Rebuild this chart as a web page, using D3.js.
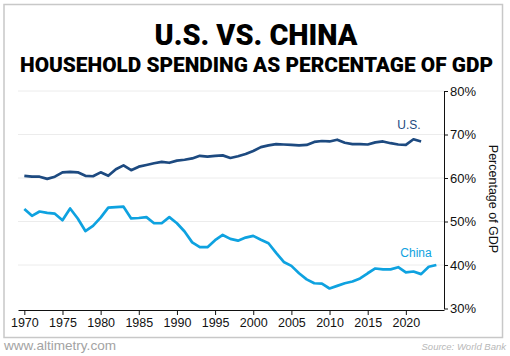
<!DOCTYPE html>
<html><head><meta charset="utf-8">
<script src="https://cdn.jsdelivr.net/npm/d3@7"></script>
<style>body{margin:0;background:#fff}svg{display:block}</style>
</head><body><svg id="c" width="510" height="356"></svg>
<script>
const years = d3.range(1970, 2025);
const usValues = [60.5,60.3,60.3,59.8,60.3,61.3,61.4,61.3,60.5,60.4,61.3,60.5,62.0,62.9,61.8,62.6,
  63.0,63.4,63.7,63.5,64.0,64.2,64.5,65.1,64.9,65.1,65.2,64.6,65.0,65.5,66.2,67.1,67.5,67.8,67.7,67.6,
  67.5,67.6,68.3,68.5,68.4,68.8,68.1,67.8,67.8,67.7,68.2,68.4,68.0,67.7,67.6,68.9,68.4];
const chinaValues = [52.9,51.3,52.3,52.0,51.8,50.3,53.0,50.7,47.8,49.0,50.9,53.2,53.3,53.4,50.7,50.8,
  51.0,49.6,49.6,51.0,49.6,47.7,45.2,44.1,44.1,45.7,46.9,46.0,45.6,46.3,46.7,45.8,45.0,42.8,40.7,39.8,
  38.1,36.7,35.8,35.7,34.6,35.2,35.8,36.2,36.9,38.1,39.2,39.0,39.0,39.5,38.3,38.5,37.9,39.6,40.0];
const xTicks = d3.range(1970, 2021, 5);
const yTicks = [30,40,50,60,70,80];
const gridTicks = [40,50,60,70,80];

const svg = d3.select("#c");
svg.append("rect").attr("x",4).attr("y",4.5).attr("width",498.5).attr("height",333)
  .attr("fill","none").attr("stroke","#c8c8c8").attr("stroke-width",1.5);

const x = d3.scaleLinear().domain([1969.17, 2025]).range([18, 444]);
const y = d3.scaleLinear().domain([30, 80]).range([308.5, 91]);

svg.append("g").selectAll("line").data(gridTicks).join("line")
  .attr("x1",18).attr("x2",444).attr("y1",d=>y(d)).attr("y2",d=>y(d))
  .attr("stroke","#ececec").attr("stroke-width",1);

const xa = svg.append("g").attr("transform","translate(0,310)")
  .call(d3.axisBottom(x).tickValues(xTicks).tickFormat(d3.format("d")).tickSize(5).tickSizeOuter(0).tickPadding(3));
xa.selectAll("text").attr("font-family","Liberation Sans, Arial, sans-serif").attr("font-size","12.5px").attr("fill","#111");
xa.select(".domain").attr("stroke","#111");
xa.selectAll(".tick line").attr("stroke","#111");

const ya = svg.append("g").attr("transform","translate(444,0)")
  .call(d3.axisRight(y).tickValues(yTicks).tickFormat(d=>d+"%").tickSize(4).tickSizeOuter(0).tickPadding(2));
ya.selectAll("text").attr("font-family","Liberation Sans, Arial, sans-serif").attr("font-size","13px").attr("fill","#111");
ya.select(".domain").attr("stroke","#111");
ya.selectAll(".tick line").attr("stroke","#111");

const line = d3.line().x((d,i)=>x(years[i])).y(d=>y(d));
svg.append("path").datum(usValues).attr("d",line).attr("fill","none")
  .attr("stroke","#1d4a80").attr("stroke-width",2.7).attr("stroke-linejoin","round");
svg.append("path").datum(chinaValues).attr("d",line).attr("fill","none")
  .attr("stroke","#0ea2e0").attr("stroke-width",2.7).attr("stroke-linejoin","round");

svg.append("text").attr("x",409).attr("y",128.5).attr("text-anchor","middle")
  .attr("font-family","Liberation Sans, Arial, sans-serif").attr("font-size","12px").attr("fill","#1d4a80").text("U.S.");
svg.append("text").attr("x",416).attr("y",257).attr("text-anchor","middle")
  .attr("font-family","Liberation Sans, Arial, sans-serif").attr("font-size","12px").attr("fill","#0ea2e0").text("China");

svg.append("text").attr("transform","translate(489,199) rotate(90)").attr("text-anchor","middle")
  .attr("font-family","Liberation Sans, Arial, sans-serif").attr("font-size","12.5px").attr("fill","#111").text("Percentage of GDP");

svg.append("text").attr("x",256).attr("y",45).attr("text-anchor","middle")
  .attr("font-family","Roboto, Arial, sans-serif").attr("font-weight",900).attr("font-size","30px")
  .attr("textLength",203).attr("lengthAdjust","spacingAndGlyphs").attr("fill","#000").text("U.S. VS. CHINA");
svg.append("text").attr("x",256.5).attr("y",72).attr("text-anchor","middle")
  .attr("font-family","Roboto, Arial, sans-serif").attr("font-weight",900).attr("font-size","20.5px")
  .attr("textLength",473).attr("lengthAdjust","spacingAndGlyphs").attr("fill","#000").text("HOUSEHOLD SPENDING AS PERCENTAGE OF GDP");

svg.append("text").attr("x",4).attr("y",350).attr("font-family","Liberation Sans, Arial, sans-serif")
  .attr("font-size","13px").attr("textLength",112).attr("lengthAdjust","spacingAndGlyphs")
  .attr("fill","#a3a3a3").text("www.altimetry.com");
svg.append("text").attr("x",506).attr("y",350).attr("text-anchor","end").attr("font-family","Liberation Sans, Arial, sans-serif")
  .attr("font-style","italic").attr("font-size","9.5px").attr("fill","#b8b8b8").text("Source: World Bank");
</script></body></html>
